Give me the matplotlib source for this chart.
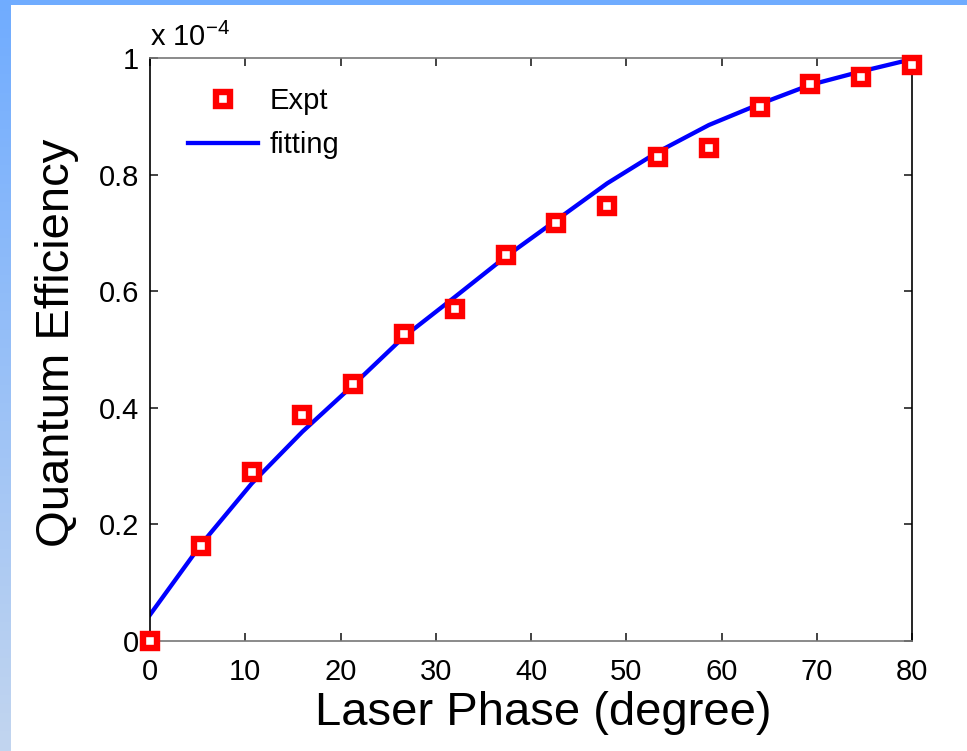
import numpy as np
import matplotlib
matplotlib.use("Agg")
import matplotlib.pyplot as plt
from matplotlib.colors import LinearSegmentedColormap

# datos (eficiencia en unidades de 1e-4)
fase = [0, 5.33, 10.67, 16, 21.33, 26.67, 32, 37.33, 42.67, 48, 53.33, 58.67, 64, 69.33, 74.67, 80]
expt = [0.0, 0.163, 0.290, 0.387, 0.441, 0.526, 0.569, 0.662, 0.717, 0.746, 0.831, 0.845, 0.916, 0.956, 0.967, 0.988]
ajuste = [0.045, 0.165, 0.270, 0.359, 0.439, 0.522, 0.590, 0.659, 0.722, 0.785, 0.839, 0.885, 0.921, 0.954, 0.977, 0.998]

xticks = [0, 10, 20, 30, 40, 50, 60, 70, 80]
yticks = [0, 0.2, 0.4, 0.6, 0.8, 1]
ytick_labels = ["0", "0.2", "0.4", "0.6", "0.8", "1"]

plt.rcParams["font.family"] = ["Liberation Sans", "DejaVu Sans"]
plt.rcParams["mathtext.fontset"] = "custom"
plt.rcParams["mathtext.rm"] = "Liberation Sans"
plt.rcParams["mathtext.it"] = "Liberation Sans"

W, H = 967, 751
fig = plt.figure(figsize=(W / 100, H / 100), dpi=100)

# marco azul de la diapositiva
top = fig.add_axes([0, 1 - 5 / H, 1, 5 / H])
top.set_facecolor("#70acff")
top.set_xticks([]); top.set_yticks([])
for s in top.spines.values():
    s.set_visible(False)
side = fig.add_axes([0, 0, 11 / W, 1])
grad = np.linspace(0, 1, 256).reshape(-1, 1)
cmap = LinearSegmentedColormap.from_list("borde", ["#c2d5ef", "#70acff"])
side.imshow(grad, aspect="auto", cmap=cmap, origin="lower", extent=[0, 1, 0, 1])
side.axis("off")

ax = fig.add_axes([150 / W, 1 - 641 / H, (912 - 150) / W, (641 - 58) / H])
ax.plot(fase, ajuste, color="#0000ff", lw=3.1, label="fitting", zorder=2)
ax.plot(fase, expt, linestyle="none", marker="s", ms=10, mew=4.6,
        mec="#ff0000", mfc="white", label="Expt", clip_on=False, zorder=3)

ax.set_xlim(0, 80)
ax.set_ylim(0, 1)
ax.set_xticks(xticks)
ax.set_yticks(yticks)
ax.set_yticklabels(ytick_labels)
ax.tick_params(direction="in", length=6, width=1.2, labelsize=21,
               top=True, right=True, color="#222222")
ax.tick_params(axis="x", pad=12)
ax.tick_params(axis="y", pad=8)
for s in ax.spines.values():
    s.set_linewidth(1.2)
ax.spines["top"].set_color("#777777")
ax.spines["bottom"].set_color("#777777")

ax.set_xlabel("Laser Phase (degree)", fontsize=34, labelpad=3.5)
ax.set_ylabel("Quantum Efficiency", fontsize=34, labelpad=14)
ax.xaxis.label.set_x(0.516)
ax.yaxis.label.set_y(0.512)

ax.text(0.0, 1.01, r"x 10$^{-4}$", transform=ax.transAxes, fontsize=21,
        ha="left", va="bottom")

handles, labels = ax.get_legend_handles_labels()
leg = ax.legend(handles[::-1], labels[::-1], loc="upper left", frameon=False,
                fontsize=21, numpoints=1, handlelength=2.4, labelspacing=0.55,
                handletextpad=0.4, bbox_to_anchor=(0.015, 0.995))

fig.savefig("out.png", dpi=100)
